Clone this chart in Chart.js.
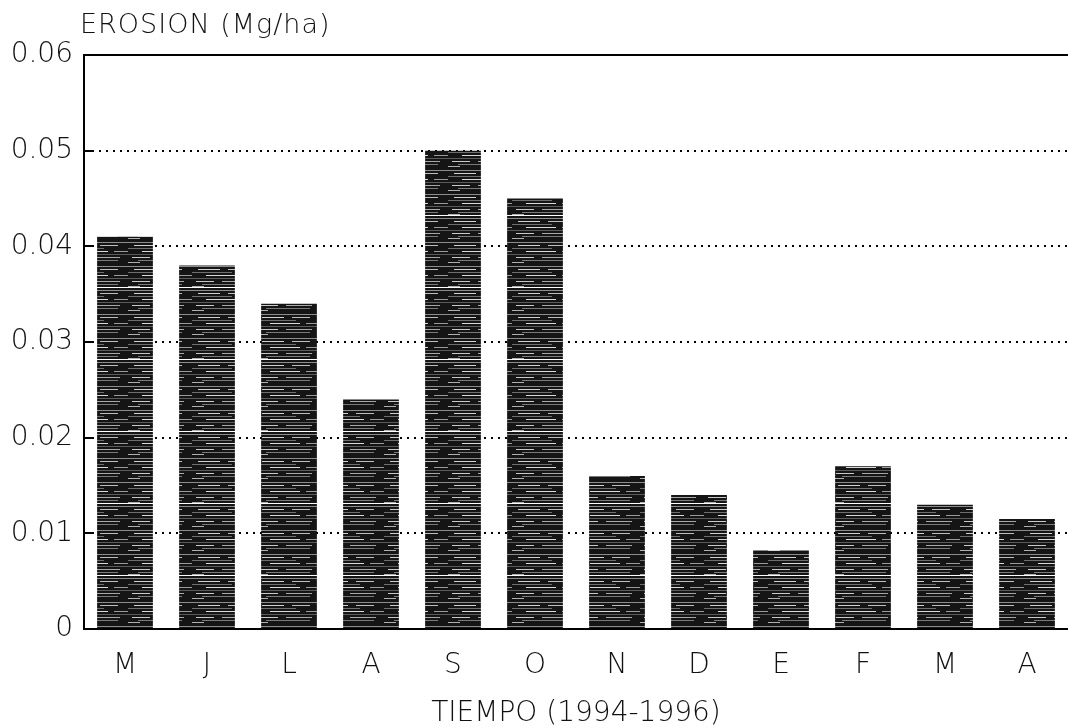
<!DOCTYPE html>
<html>
<head>
<meta charset="utf-8">
<script src="https://cdn.jsdelivr.net/npm/chart.js@4"></script>
<style>
  html, body { margin: 0; padding: 0; background: #fff; }
  #wrap { width: 1068px; height: 728px; }
</style>
</head>
<body>
<div id="wrap"><canvas id="c" width="1068" height="728"></canvas></div>
<script>
// Monthly soil erosion, May 1994 – April 1995
const months = ['M', 'J', 'L', 'A', 'S', 'O', 'N', 'D', 'E', 'F', 'M', 'A'];
const erosion = [0.041, 0.038, 0.034, 0.024, 0.050, 0.045, 0.016, 0.014, 0.0082, 0.017, 0.013, 0.0115];
const yTicks = [0, 0.01, 0.02, 0.03, 0.04, 0.05, 0.06];
const yTitle = 'EROSION (Mg/ha)';
const xTitle = 'TIEMPO (1994-1996)';

const FONT = '"DejaVu Sans", "Liberation Sans", sans-serif';

// Dark hatched fill with light horizontal streaks, like a plotter shading
function barTexture() {
  const c = document.createElement('canvas');
  c.width = 64; c.height = 72;
  const g = c.getContext('2d');
  g.fillStyle = '#151515';
  g.fillRect(0, 0, 64, 72);
  const streaks = [
    [2, 0, 64, '#8c8c8c'], [5, 6, 22, '#d0d0d0'], [5, 36, 18, '#bdbdbd'],
    [8, 0, 40, '#6e6e6e'], [11, 14, 30, '#d8d8d8'], [11, 50, 14, '#9a9a9a'],
    [14, 0, 64, '#5a5a5a'], [17, 4, 18, '#c8c8c8'], [17, 30, 26, '#a8a8a8'],
    [20, 10, 44, '#7a7a7a'], [22, 0, 12, '#b0b0b0']
  ];
  [0, 24, 48].forEach(off => {
    streaks.forEach(([y, x, w, col]) => {
      g.fillStyle = col;
      g.fillRect(x, y + off, w, 1);
    });
  });
  g.fillStyle = '#ffffff';
  g.fillRect(0, 71, 64, 1);
  return g.createPattern(c, 'repeat');
}

// Horizontal axis caption above the value axis
const topTitle = {
  id: 'topTitle',
  afterDraw(chart) {
    const ctx = chart.ctx;
    ctx.save();
    ctx.font = '200 27px ' + FONT;
    ctx.letterSpacing = '1px';
    ctx.fillStyle = '#111';
    ctx.textBaseline = 'alphabetic';
    ctx.textAlign = 'left';
    ctx.fillText(yTitle, 80, 33);
    ctx.restore();
  }
};

// Short inward tick marks on the value axis
const innerTicks = {
  id: 'innerTicks',
  afterDatasetsDraw(chart) {
    const ctx = chart.ctx;
    const y = chart.scales.y;
    const left = chart.chartArea.left;
    ctx.save();
    ctx.strokeStyle = '#000';
    ctx.lineWidth = 2;
    yTicks.forEach(v => {
      if (v <= 0 || v >= 0.06) return;
      const py = Math.round(y.getPixelForValue(v));
      ctx.beginPath();
      ctx.moveTo(left, py);
      ctx.lineTo(left + 8, py);
      ctx.stroke();
    });
    ctx.restore();
  }
};

new Chart(document.getElementById('c'), {
  type: 'bar',
  data: {
    labels: months,
    datasets: [{
      data: erosion,
      backgroundColor: barTexture(),
      borderWidth: 0,
      barPercentage: 0.68,
      categoryPercentage: 1.0
    }]
  },
  options: {
    responsive: false,
    animation: false,
    devicePixelRatio: 1,
    layout: { padding: { top: 55, left: 0, right: 0, bottom: 0 } },
    plugins: {
      legend: { display: false },
      tooltip: { enabled: false },
      title: { display: false }
    },
    scales: {
      x: {
        grid: { display: false, drawTicks: false },
        border: { display: true, color: '#000', width: 2 },
        ticks: {
          color: '#111',
          font: { family: FONT, size: 28, weight: '200' },
          padding: 20,
          maxRotation: 0
        },
        title: {
          display: true,
          text: xTitle,
          color: '#111',
          font: { family: FONT, size: 28, weight: '200' },
          padding: { top: 0, bottom: -3 }
        },
        afterFit: s => { s.height = 99; }
      },
      y: {
        min: 0,
        max: 0.06,
        afterBuildTicks: s => { s.ticks = yTicks.map(v => ({ value: v })); },
        grid: {
          color: '#000',
          lineWidth: 2,
          drawTicks: false
        },
        border: {
          display: true,
          color: '#000',
          width: 2,
          dash: ctx => (ctx.tick && ctx.tick.value > 0 && ctx.tick.value < 0.06) ? [2, 5] : []
        },
        ticks: {
          color: '#111',
          font: { family: FONT, size: 28, weight: '200' },
          padding: 11,
          callback: v => (v === 0 ? '0' : v.toFixed(2))
        },
        afterFit: s => { s.width = 84; }
      }
    }
  },
  plugins: [topTitle, innerTicks]
});
</script>
</body>
</html>
